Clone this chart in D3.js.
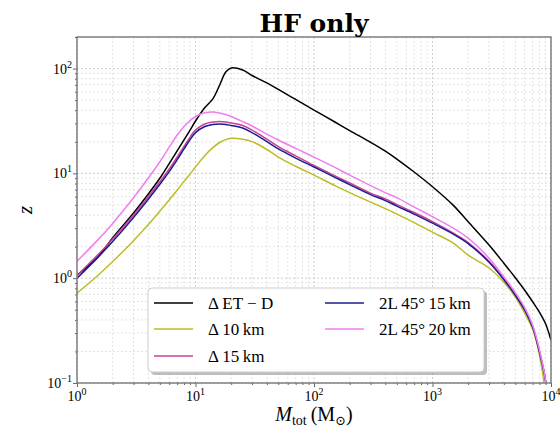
<!DOCTYPE html>
<html>
<head>
<meta charset="utf-8">
<script src="https://cdn.jsdelivr.net/npm/d3@7"></script>
<style>
body { margin: 0; background: #fff; }
svg text { font-family: "Liberation Serif", "DejaVu Serif", serif; fill: #000; }
</style>
</head>
<body>
<script>
// total mass grid (Msun)
const mass = [1, 1.5, 2, 3, 4, 5, 6, 7, 8, 9, 10, 12, 14, 16, 18, 20, 25, 30, 40, 50, 70,
	100, 150, 200, 300, 400, 500, 700, 1000, 1500, 2000, 3000, 4000, 5000, 6000, 7000, 8000, 9000, 10000];

const zETD = [1.07, 1.59, 2.43, 4.19, 6.36, 8.98, 12.4, 16.4, 20.9, 25.9, 31.6, 42.5, 51.3, 69.7, 92.8, 101.3, 97.0, 85.9, 72.9, 63.2, 50.7,
	40.2, 30.9, 25.6, 19.8, 16.3, 13.7, 10.3, 7.45, 4.95, 3.45, 2.07, 1.39, 1.01, 0.768, 0.596, 0.473, 0.368, 0.256];
const z10 = [0.719, 1.06, 1.44, 2.28, 3.25, 4.35, 5.58, 6.91, 8.39, 9.85, 11.5, 14.8, 17.6, 19.7, 21.0, 21.6, 21.2, 20.1, 16.9, 14.3, 11.7,
	9.63, 7.65, 6.55, 5.32, 4.61, 4.09, 3.39, 2.75, 2.16, 1.66, 1.25, 0.916, 0.659, 0.463, 0.326, 0.184, 0.076, 0.02];
const z15 = [1.06, 1.67, 2.37, 4.01, 5.99, 8.31, 11.0, 14.3, 18.1, 22.2, 25.9, 29.6, 30.9, 31.2, 30.9, 30.2, 28.6, 25.9, 21.2, 18.0, 14.7,
	11.9, 9.47, 8.09, 6.48, 5.69, 5.04, 4.23, 3.46, 2.69, 2.19, 1.45, 0.99, 0.70, 0.505, 0.347, 0.2, 0.106, 0.03];
const z2L15 = [1.0, 1.58, 2.24, 3.80, 5.67, 7.87, 10.4, 13.5, 17.1, 21.0, 24.5, 28.0, 29.3, 29.6, 29.3, 28.6, 27.1, 24.5, 20.1, 17.1, 14.0,
	11.5, 9.16, 7.82, 6.27, 5.5, 4.87, 4.09, 3.35, 2.63, 2.14, 1.42, 0.968, 0.688, 0.495, 0.34, 0.196, 0.104, 0.03];
const z2L20 = [1.45, 2.32, 3.33, 5.85, 9.02, 12.9, 17.8, 23.2, 28.0, 31.9, 34.9, 37.8, 38.5, 37.7, 36.4, 34.9, 31.2, 28.3, 23.7, 20.8, 17.3,
	14.3, 11.4, 9.63, 7.65, 6.55, 5.87, 4.77, 3.87, 3.0, 2.41, 1.55, 1.03, 0.727, 0.523, 0.356, 0.205, 0.106, 0.03];

const seriesNames = ["\u0394\u2009ET \u2212 D", "\u0394\u200910\u2009km", "\u0394\u200915\u2009km",
	"2L\u200945\u00b0\u200915\u2009km", "2L\u200945\u00b0\u200920\u2009km"];
const seriesColors = ["#000000", "#bcbd22", "#c8409a", "#1c1c8e", "#f07ef0"];
const seriesValues = [zETD, z10, z15, z2L15, z2L20];

const xTicks = [1, 10, 100, 1000, 10000];
const yTicks = [0.1, 1, 10, 100];

const width = 560, height = 430;
const mLeft = 77, mRight = 551, mTop = 37, mBottom = 383;

const svg = d3.select("body").append("svg")
	.attr("width", width)
	.attr("height", height);

const x = d3.scaleLog().domain([1, 10000]).range([mLeft, mRight]);
const y = d3.scaleLog().domain([0.1, 200]).range([mBottom, mTop]);

// minor tick values
const xMinor = [];
for (let d = 1; d < 10000; d *= 10) for (let k = 2; k <= 9; k++) xMinor.push(d * k);
const yMinor = [];
for (let d = 0.1; d < 200; d *= 10) for (let k = 2; k <= 9; k++) if (d * k <= 200) yMinor.push(d * k);

// grid
const grid = svg.append("g").attr("class", "grid");
grid.append("g").selectAll("line").data(xMinor).join("line")
	.attr("x1", d => x(d)).attr("x2", d => x(d))
	.attr("y1", mTop).attr("y2", mBottom)
	.attr("stroke", "#dcdcdc").attr("stroke-width", 0.8).attr("stroke-dasharray", "2,2");
grid.append("g").selectAll("line").data(yMinor).join("line")
	.attr("y1", d => y(d)).attr("y2", d => y(d))
	.attr("x1", mLeft).attr("x2", mRight)
	.attr("stroke", "#dcdcdc").attr("stroke-width", 0.8).attr("stroke-dasharray", "2,2");
grid.append("g").selectAll("line").data(xTicks).join("line")
	.attr("x1", d => x(d)).attr("x2", d => x(d))
	.attr("y1", mTop).attr("y2", mBottom)
	.attr("stroke", "#c8c8c8").attr("stroke-width", 0.9).attr("stroke-dasharray", "2,2");
grid.append("g").selectAll("line").data(yTicks).join("line")
	.attr("y1", d => y(d)).attr("y2", d => y(d))
	.attr("x1", mLeft).attr("x2", mRight)
	.attr("stroke", "#c8c8c8").attr("stroke-width", 0.9).attr("stroke-dasharray", "2,2");

// curves
svg.append("clipPath").attr("id", "clip")
	.append("rect").attr("x", mLeft).attr("y", mTop).attr("width", mRight - mLeft).attr("height", mBottom - mTop);

const line = d3.line()
	.x((d, i) => x(mass[i]))
	.y(d => y(d))
	.curve(d3.curveCatmullRom.alpha(0.5));

const order = [0, 1, 2, 3, 4];
svg.append("g").attr("clip-path", "url(#clip)")
	.selectAll("path").data(order).join("path")
	.attr("d", i => line(seriesValues[i]))
	.attr("fill", "none")
	.attr("stroke", i => seriesColors[i])
	.attr("stroke-width", 1.5);

// axes
const xAxis = d3.axisBottom(x).tickValues(xTicks).tickSize(4).tickFormat("");
const yAxis = d3.axisLeft(y).tickValues(yTicks).tickSize(4).tickFormat("");
const xAxisMinor = d3.axisBottom(x).tickValues(xMinor).tickSize(2).tickFormat("");
const yAxisMinor = d3.axisLeft(y).tickValues(yMinor).tickSize(2).tickFormat("");

function styleAxis(g) {
	g.select(".domain").remove();
	g.selectAll("line").attr("stroke", "#555").attr("stroke-width", 0.9);
}
svg.append("g").attr("transform", "translate(0," + mBottom + ")").call(xAxis).call(styleAxis);
svg.append("g").attr("transform", "translate(0," + mBottom + ")").call(xAxisMinor).call(styleAxis);
svg.append("g").attr("transform", "translate(" + mLeft + ",0)").call(yAxis).call(styleAxis);
svg.append("g").attr("transform", "translate(" + mLeft + ",0)").call(yAxisMinor).call(styleAxis);

svg.append("rect")
	.attr("x", mLeft).attr("y", mTop)
	.attr("width", mRight - mLeft).attr("height", mBottom - mTop)
	.attr("fill", "none").attr("stroke", "#777").attr("stroke-width", 1.4);

// tick labels
const expOf = v => Math.round(Math.log10(v));
const xl = svg.append("g").selectAll("text").data(xTicks).join("text")
	.attr("x", d => x(d)).attr("y", mBottom + 18)
	.attr("text-anchor", "middle").attr("font-size", 14);
xl.append("tspan").text("10");
xl.append("tspan").attr("dy", -6).attr("font-size", 10).text(d => expOf(d) < 0 ? "\u2212" + (-expOf(d)) : expOf(d));

const yl = svg.append("g").selectAll("text").data(yTicks).join("text")
	.attr("x", mLeft - 5).attr("y", d => y(d) + 5)
	.attr("text-anchor", "end").attr("font-size", 14);
yl.append("tspan").text("10");
yl.append("tspan").attr("dy", -6).attr("font-size", 10).text(d => expOf(d) < 0 ? "\u2212" + (-expOf(d)) : expOf(d));

// labels
svg.append("text")
	.attr("x", (mLeft + mRight) / 2).attr("y", 32)
	.attr("text-anchor", "middle")
	.style("font-family", "'DejaVu Serif', serif")
	.attr("font-weight", "bold").attr("font-size", 25)
	.text("HF only");

svg.append("text")
	.attr("transform", "translate(32,210) rotate(-90)")
	.attr("text-anchor", "middle").attr("font-size", 21).attr("font-style", "italic")
	.text("z");

const xlab = svg.append("text")
	.attr("x", (mLeft + mRight) / 2).attr("y", 421)
	.attr("text-anchor", "middle").attr("font-size", 20);
xlab.append("tspan").attr("font-style", "italic").text("M");
xlab.append("tspan").attr("dy", 4).attr("font-size", 14).text("tot");
xlab.append("tspan").attr("dy", -4).text("\u2009(M");
xlab.append("tspan").attr("dy", 4).attr("font-size", 13).text("\u2299");
xlab.append("tspan").attr("dy", -4).text(")");

// legend
const lg = svg.append("g");
lg.append("rect")
	.attr("x", 151).attr("y", 291).attr("width", 336).attr("height", 84).attr("rx", 4)
	.attr("fill", "#888").attr("opacity", 0.55);
lg.append("rect")
	.attr("x", 148).attr("y", 288).attr("width", 336).attr("height", 84).attr("rx", 4)
	.attr("fill", "#fff").attr("stroke", "#ccc").attr("stroke-width", 1);

const legPos = [[154, 303], [154, 329], [154, 356], [325, 303], [325, 329]];
const items = lg.selectAll(".item").data(order).join("g")
	.attr("transform", i => "translate(" + legPos[i][0] + "," + legPos[i][1] + ")");
items.append("line")
	.attr("x1", 0).attr("x2", 39).attr("y1", 0).attr("y2", 0)
	.attr("stroke", i => seriesColors[i]).attr("stroke-width", 1.5);
items.append("text")
	.attr("x", 54).attr("y", 6)
	.attr("font-size", 17)
	.text(i => seriesNames[i]);
</script>
</body>
</html>
